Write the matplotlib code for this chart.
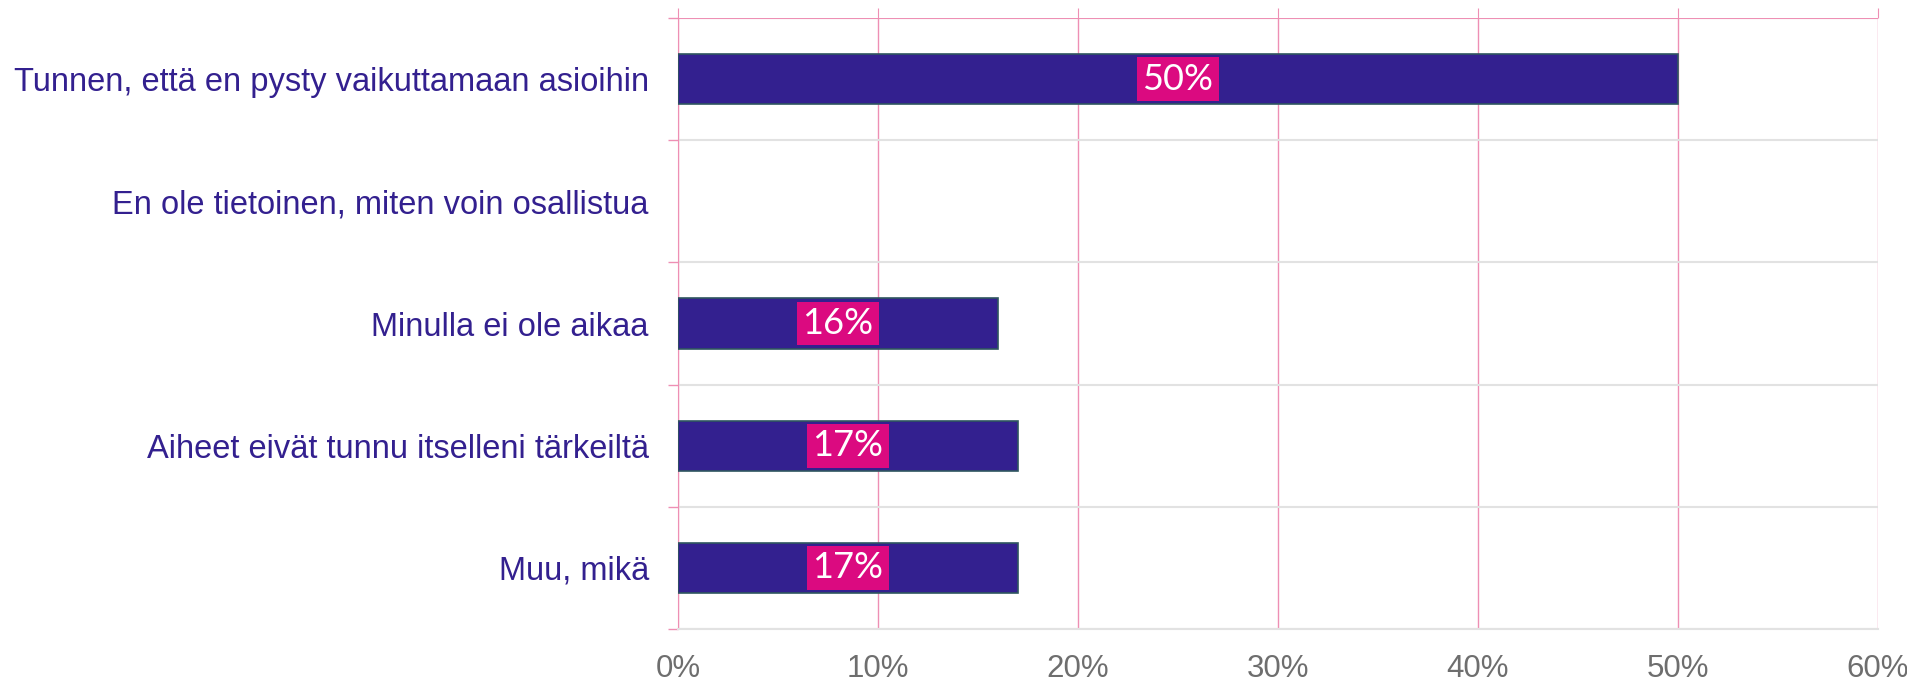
import matplotlib.pyplot as plt
from matplotlib.ticker import FixedLocator

categories = [
    "Tunnen, että en pysty vaikuttamaan asioihin",
    "En ole tietoinen, miten voin osallistua",
    "Minulla ei ole aikaa",
    "Aiheet eivät tunnu itselleni tärkeiltä",
    "Muu, mikä",
]
values = [50, 0, 16, 17, 17]
xticks = [0, 10, 20, 30, 40, 50, 60]

bar_color = "#33208F"
pink = "#DB0A80"
grid_pink = "#EE8FB4"

fig = plt.figure(figsize=(19.07, 6.82), dpi=100)
ax = fig.add_axes([0.3555, 0.0777, 0.6293, 0.8959])

y = list(range(len(categories)))
bars = ax.barh(y, values, height=0.41, color=bar_color, edgecolor="#2F5660", linewidth=1.2, zorder=3)
for b, v in zip(bars, values):
    if v == 0:
        b.set_linewidth(0)

for yi, v in zip(y, values):
    if v > 0:
        ax.text(v / 2, yi, f"{v}%", ha="center", va="center", color="white",
                fontsize=26, family="Lato", zorder=4,
                bbox=dict(boxstyle="square,pad=0.15", fc=pink, ec="none"))

ax.set_xlim(0, 60)
ax.set_ylim(len(categories) - 0.5, -0.5)

ax.set_xticks(xticks)
ax.set_xticklabels([f"{t}%" for t in xticks])
ax.set_yticks(y)
ax.set_yticklabels(categories)
ax.yaxis.set_minor_locator(FixedLocator([i - 0.5 for i in range(len(categories) + 1)]))

ax.tick_params(axis="x", which="major", pad=11, labelsize=22.5, labelcolor="#6E6E6E",
               bottom=False, top=True, labeltop=False, length=7, color=grid_pink, direction="out")
ax.tick_params(axis="y", which="major", length=0, pad=21, labelsize=23.5, labelcolor=bar_color)
ax.tick_params(axis="y", which="minor", length=7, color=grid_pink, width=1)

for lbl in ax.get_yticklabels() + ax.get_xticklabels():
    lbl.set_family("Liberation Sans")

ax.grid(axis="x", which="major", color=grid_pink, linewidth=1, zorder=0)
ax.grid(axis="y", which="minor", color="#E2E2E2", linewidth=1.5, zorder=0)
ax.set_axisbelow(True)
ax.axhline(-0.5, color=grid_pink, linewidth=1.5, zorder=2)

ax.spines["left"].set_color(grid_pink)
ax.spines["bottom"].set_color("#E2E2E2")
ax.spines["bottom"].set_linewidth(1.5)
ax.spines["top"].set_visible(False)
ax.spines["right"].set_visible(False)

fig.savefig("out.png", dpi=100)
